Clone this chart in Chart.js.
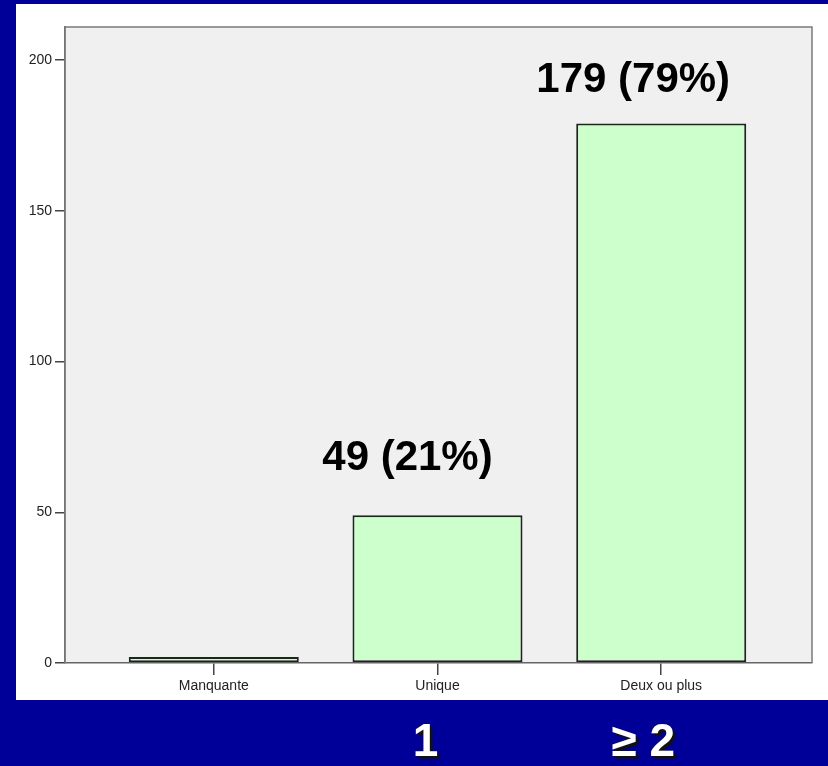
<!DOCTYPE html>
<html>
<head>
<meta charset="utf-8">
<script src="https://cdn.jsdelivr.net/npm/chart.js@4"></script>
<style>
  html, body { margin: 0; padding: 0; background: #000099; }
  #wrap { width: 828px; height: 766px; }
</style>
</head>
<body>
<div id="wrap"><canvas id="c" width="828" height="766"></canvas></div>
<script>
// ---- data ----
const categories = ['Manquante', 'Unique', 'Deux ou plus'];
const counts = [2, 49, 179];
const barLabels = ['', '49 (21%)', '179 (79%)'];
const groupLabels = ['', '1', '\u2265 2'];
const yTickValues = [0, 50, 100, 150, 200];

// ---- styling (not data) ----
const labelStyle = [null, { dx: -30, dy: -45 }, { dx: -28, dy: -31 }];
const groupStyle = [null, { dx: -12 }, { dx: -18 }];

const panelPlugin = {
  id: 'panel',
  beforeDraw(chart) {
    const { ctx, chartArea: a } = chart;
    ctx.save();
    ctx.fillStyle = '#000099';
    ctx.fillRect(0, 0, chart.width, chart.height);
    ctx.fillStyle = '#ffffff';
    ctx.fillRect(16, 4, chart.width - 16, 696);
    ctx.fillStyle = '#f0f0f0';
    ctx.fillRect(a.left, a.top, a.right - a.left, a.bottom - a.top);
    ctx.restore();
  },
  afterDraw(chart) {
    const { ctx, chartArea: a } = chart;
    const xs = chart.scales.x, ys = chart.scales.y;
    ctx.save();
    ctx.strokeStyle = '#7a7a7a';
    ctx.lineWidth = 1.5;
    ctx.beginPath();
    ctx.moveTo(a.left, a.bottom);
    ctx.lineTo(a.left, a.top);
    ctx.lineTo(a.right, a.top);
    ctx.lineTo(a.right, a.bottom);
    ctx.stroke();
    ctx.fillStyle = '#000000';
    ctx.font = 'bold 42px "Liberation Sans", Arial, sans-serif';
    ctx.textAlign = 'center';
    ctx.textBaseline = 'alphabetic';
    barLabels.forEach((t, i) => {
      if (!t) return;
      const st = labelStyle[i];
      const x = xs.getPixelForValue(i) + st.dx;
      const y = ys.getPixelForValue(counts[i]) + st.dy;
      ctx.fillText(t, x, y);
    });
    ctx.font = 'bold 46px "Liberation Sans", Arial, sans-serif';
    groupLabels.forEach((t, i) => {
      if (!t) return;
      const x = xs.getPixelForValue(i) + groupStyle[i].dx;
      const y = 756;
      ctx.fillStyle = '#111111';
      ctx.fillText(t, x + 3, y + 3);
      ctx.fillStyle = '#ffffff';
      ctx.fillText(t, x, y);
    });
    ctx.restore();
  }
};

new Chart(document.getElementById('c'), {
  type: 'bar',
  data: {
    datasets: [{
      data: counts.map((v, i) => ({ x: i, y: v })),
      backgroundColor: '#ccffcc',
      borderColor: '#222222',
      borderWidth: 2,
      borderSkipped: false,
      barPercentage: 0.76,
      categoryPercentage: 1.0
    }]
  },
  options: {
    responsive: false,
    animation: false,
    devicePixelRatio: 1,
    layout: { padding: { left: 0, top: 27, right: 16, bottom: 0 } },
    plugins: { legend: { display: false }, tooltip: { enabled: false } },
    scales: {
      x: {
        type: 'linear',
        min: -0.665,
        max: 2.674,
        offset: false,
        afterBuildTicks(s) { s.ticks = categories.map((_, i) => ({ value: i })); },
        afterFit(s) { s.height = 103; },
        ticks: {
          callback: (v) => categories[v],
          color: '#222222',
          font: { family: '"Liberation Sans", Arial, sans-serif', size: 14 },
          padding: 3,
          maxRotation: 0,
          autoSkip: false
        },
        grid: { offset: false, drawOnChartArea: false, drawTicks: true, tickLength: 12, color: '#444444', lineWidth: 1.5 },
        border: { display: true, color: '#666666', width: 1.5 }
      },
      y: {
        type: 'linear',
        min: 0,
        max: 211,
        afterBuildTicks(s) { s.ticks = yTickValues.map(v => ({ value: v })); },
        afterFit(s) { s.width = 65; },
        ticks: {
          color: '#222222',
          font: { family: '"Liberation Sans", Arial, sans-serif', size: 14 },
          padding: 3
        },
        grid: { drawOnChartArea: false, drawTicks: true, tickLength: 10, color: '#444444', lineWidth: 1.5 },
        border: { display: true, color: '#666666', width: 1.5 }
      }
    }
  },
  plugins: [panelPlugin]
});
</script>
</body>
</html>
